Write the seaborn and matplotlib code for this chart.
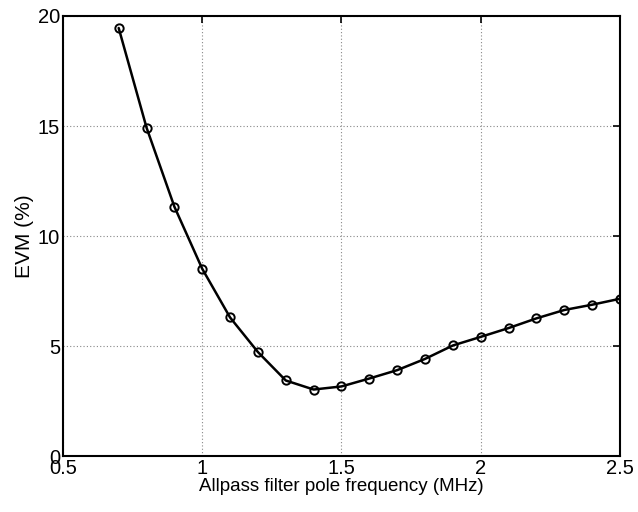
import matplotlib
matplotlib.use("Agg")
import matplotlib.pyplot as plt
import seaborn as sns
import pandas as pd

freq_mhz = [0.7, 0.8, 0.9, 1.0, 1.1, 1.2, 1.3, 1.4, 1.5, 1.6, 1.7, 1.8, 1.9, 2.0, 2.1, 2.2, 2.3, 2.4, 2.5]
evm_pct = [19.45, 14.93, 11.34, 8.52, 6.31, 4.74, 3.45, 3.04, 3.18, 3.54, 3.92, 4.43, 5.04, 5.43, 5.83, 6.27, 6.65, 6.89, 7.16]

df = pd.DataFrame({"freq": freq_mhz, "evm": evm_pct})

sns.set_style("white")
plt.rcParams["font.family"] = ["Liberation Sans", "DejaVu Sans"]
plt.rcParams["text.color"] = "black"
plt.rcParams["axes.labelcolor"] = "black"

fig = plt.figure(figsize=(6.38, 5.12), dpi=100)
ax = fig.add_axes([0.0987, 0.1084, 0.8731, 0.8606])

sns.lineplot(data=df, x="freq", y="evm", ax=ax, color="black", linewidth=1.8,
             marker="o", markersize=6, markerfacecolor="none",
             markeredgecolor="black", markeredgewidth=1.4)

ax.set_xlim(0.5, 2.5)
ax.set_ylim(0, 20)
ax.set_xticks([0.5, 1, 1.5, 2, 2.5])
ax.set_xticklabels(["0.5", "1", "1.5", "2", "2.5"])
ax.set_yticks([0, 5, 10, 15, 20])
ax.set_yticklabels(["0", "5", "10", "15", "20"])
ax.grid(True, linestyle=(0, (1, 2)), color="#888888", linewidth=0.8)
ax.tick_params(direction="in", length=5, width=1.2, top=True, right=True,
               labelsize=14.5, colors="black", pad=2)
for s in ax.spines.values():
    s.set_visible(True)
    s.set_color("black")
    s.set_linewidth(1.5)
ax.set_xlabel("Allpass filter pole frequency (MHz)", fontsize=13.5, labelpad=0, color="black")
ax.set_ylabel("EVM (%)", fontsize=15, labelpad=3, color="black")

fig.savefig("out.png", dpi=100)
